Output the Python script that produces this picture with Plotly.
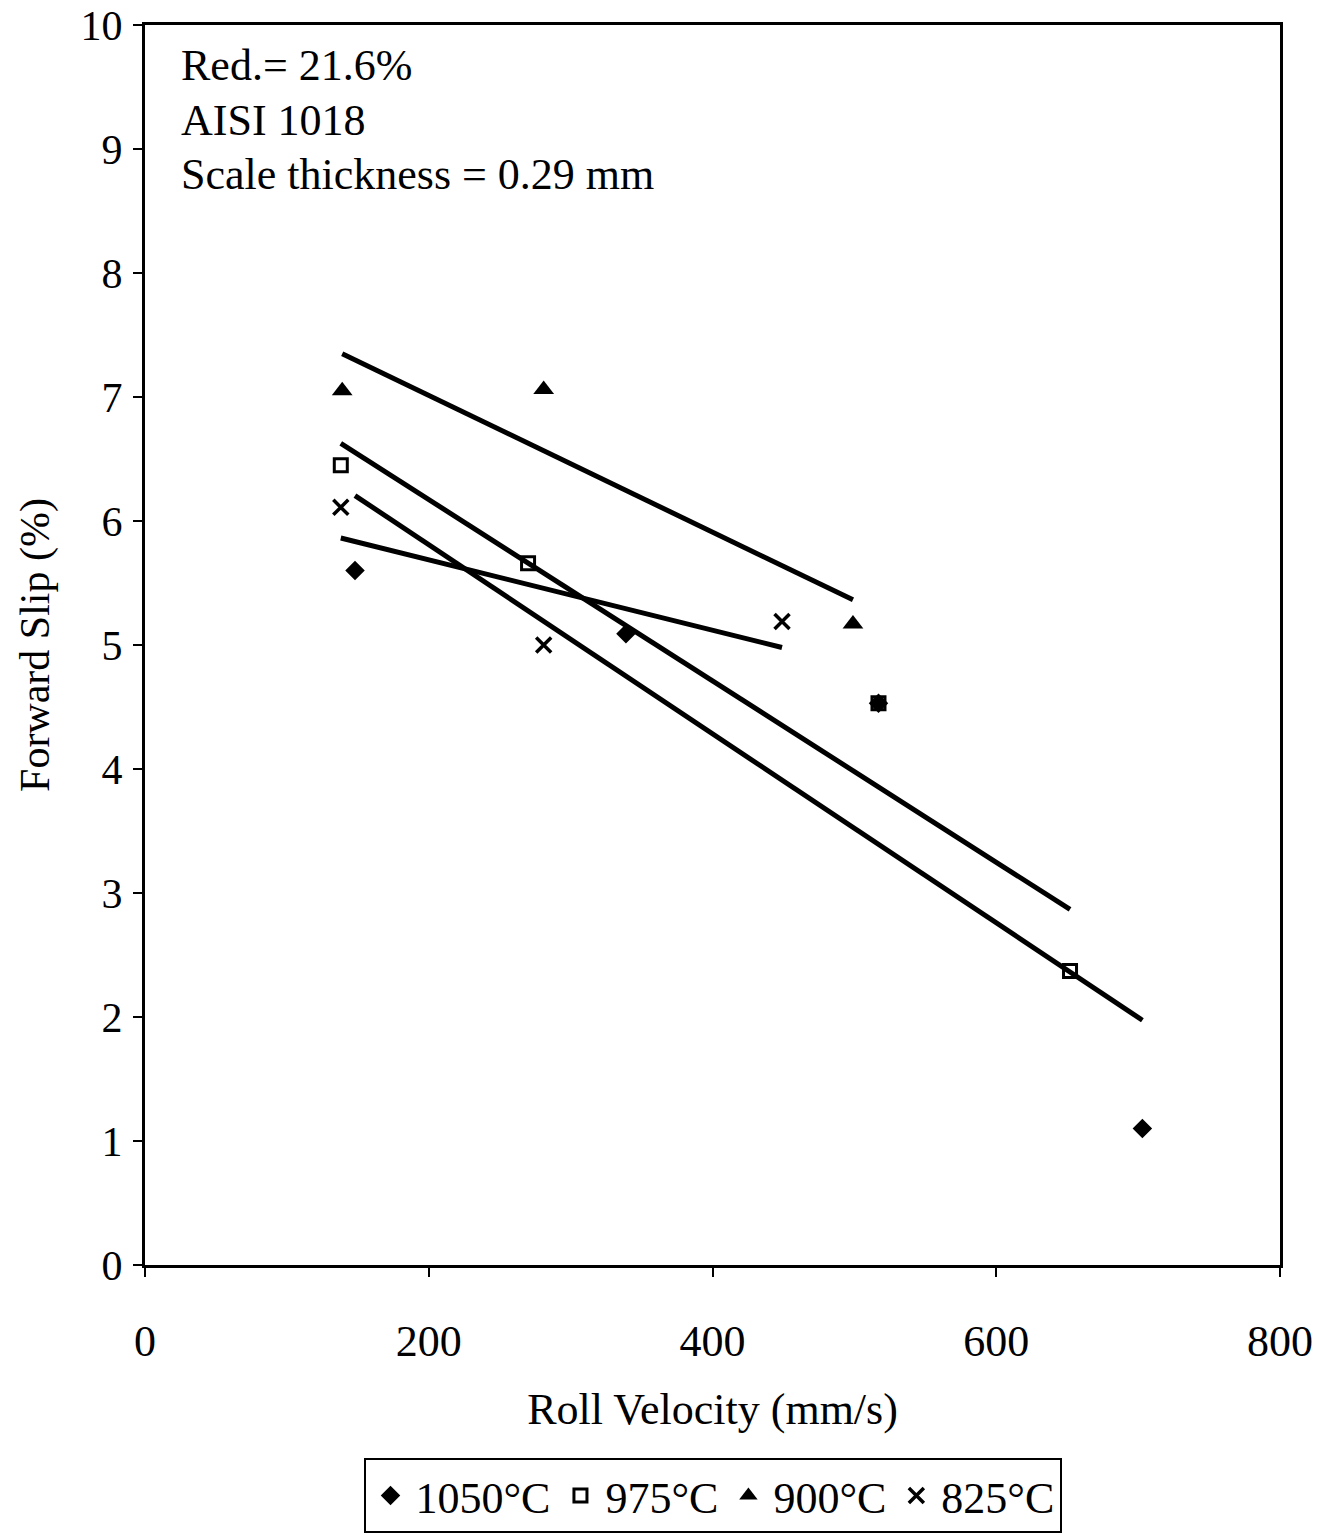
import numpy as np
import plotly.graph_objects as go

# Data
series_names = ["1050°C", "975°C", "900°C", "825°C"]
x_1050 = [148, 339, 517, 703]
y_1050 = [5.60, 5.09, 4.53, 1.10]
x_975 = [138, 270, 517, 652]
y_975 = [6.45, 5.66, 4.53, 2.37]
x_900 = [139, 281, 499]
y_900 = [7.05, 7.06, 5.17]
x_825 = [138, 281, 449]
y_825 = [6.11, 5.00, 5.19]

x_ticks = [0, 200, 400, 600, 800]
y_ticks = list(range(0, 11))
notes = ["Red.= 21.6%", "AISI 1018", "Scale thickness = 0.29 mm"]

FONT = "Liberation Serif"
FS = 44
series = [
    (series_names[0], x_1050, y_1050, dict(symbol="diamond", size=15, color="black")),
    (series_names[1], x_975, y_975, dict(symbol="square-open", size=13, color="black", line=dict(width=3, color="black"))),
    (series_names[2], x_900, y_900, dict(symbol="triangle-up", size=18, color="black")),
    (series_names[3], x_825, y_825, dict(symbol="x-thin-open", size=15, color="black", line=dict(width=3.5, color="black"))),
]

fig = go.Figure()
# linear trendlines (least squares over each series' x range)
for name, xs, ys, mk in series:
    k, b = np.polyfit(xs, ys, 1)
    xl = [min(xs), max(xs)]
    fig.add_trace(go.Scatter(x=xl, y=[k * v + b for v in xl], mode="lines",
                             line=dict(color="black", width=5), showlegend=False,
                             hoverinfo="skip"))
for name, xs, ys, mk in series:
    fig.add_trace(go.Scatter(x=xs, y=ys, mode="markers", name=name, marker=mk))

for i, t in enumerate(notes):
    fig.add_annotation(text=t, xref="paper", yref="paper", x=0.03, y=0.967 - i * 0.0437,
                       xanchor="left", yanchor="middle", showarrow=False,
                       font=dict(family=FONT, size=FS, color="black"))

axis_common = dict(showline=True, linecolor="black", linewidth=3, mirror=True,
                   showgrid=False, zeroline=False, ticks="outside", ticklen=9,
                   tickwidth=2, tickcolor="black", automargin=False)

fig.update_xaxes(range=[0, 800], tickvals=x_ticks, ticktext=[str(v) for v in x_ticks],
                 ticklabelstandoff=26,
                 tickfont=dict(family=FONT, size=FS, color="black"),
                 title=dict(text="Roll Velocity (mm/s)", font=dict(family=FONT, size=FS, color="black"),
                            standoff=29),
                 **axis_common)
fig.update_yaxes(range=[0, 10], tickvals=y_ticks, ticktext=[str(v) for v in y_ticks],
                 ticklabelstandoff=2,
                 tickfont=dict(family=FONT, size=42, color="black"),
                 title=dict(text="Forward Slip (%)", font=dict(family=FONT, size=42, color="black"),
                            standoff=18),
                 **axis_common)

fig.update_layout(
    width=1322, height=1538,
    margin=dict(l=145, r=42, t=25, b=273, autoexpand=False),
    paper_bgcolor="white", plot_bgcolor="white",
    font=dict(family=FONT, color="black"),
    legend=dict(orientation="h", x=0.5, xanchor="center", yref="container", y=0.003, yanchor="bottom",
                font=dict(family=FONT, size=FS, color="black"),
                bordercolor="black", borderwidth=2, bgcolor="white",
                itemwidth=40, tracegroupgap=0),
)

fig.write_html("out.html")
